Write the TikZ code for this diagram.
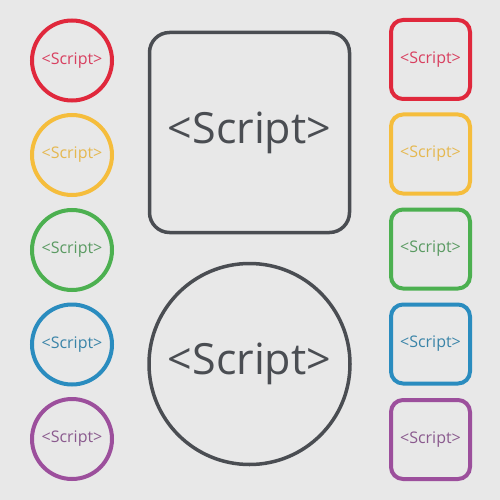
\documentclass[tikz,border=0pt]{standalone}
\usepackage{fontspec}
\setmainfont{Open Sans}
\definecolor{bg}{HTML}{E8E8E8}
\definecolor{cgray}{HTML}{4A4D52}
\definecolor{cred}{HTML}{E0283C}
\definecolor{tred}{HTML}{D84060}
\definecolor{cyel}{HTML}{F5BD3C}
\definecolor{tyel}{HTML}{E5B850}
\definecolor{cgrn}{HTML}{4CB050}
\definecolor{tgrn}{HTML}{5A9A62}
\definecolor{cblu}{HTML}{2A8CBF}
\definecolor{tblu}{HTML}{3A84A8}
\definecolor{cpur}{HTML}{9C4F9C}
\definecolor{tpur}{HTML}{8A5A8E}
\begin{document}
\begin{tikzpicture}[x=1pt,y=-1pt,
  smallcirc/.style={circle,draw,line width=4pt,minimum size=80pt,inner sep=0pt,font=\fontsize{16}{16}\selectfont},
  smallsq/.style={rectangle,rounded corners=12pt,draw,line width=4pt,minimum size=79pt,inner sep=0pt,font=\fontsize{16}{16}\selectfont},
  bigsq/.style={rectangle,rounded corners=20pt,draw=cgray,line width=3.5pt,minimum size=200pt,inner sep=0pt,text=cgray,font=\fontsize{43}{43}\selectfont},
  bigcirc/.style={circle,draw=cgray,line width=3.5pt,minimum size=201pt,inner sep=0pt,text=cgray,font=\fontsize{43}{43}\selectfont}]
\fill[bg] (0,0) rectangle (500,500);
\useasboundingbox (0,0) rectangle (500,500);
\node[smallcirc,draw=cred,text=tred] (c1) at (72,60.5) {<Script>};
\node[smallcirc,draw=cyel,text=tyel] (c2) at (72,155) {<Script>};
\node[smallcirc,draw=cgrn,text=tgrn] (c3) at (72,250) {<Script>};
\node[smallcirc,draw=cblu,text=tblu] (c4) at (72,344.5) {<Script>};
\node[smallcirc,draw=cpur,text=tpur] (c5) at (72,439) {<Script>};
\node[smallsq,draw=cred,text=tred] (s1) at (430.5,59.5) {<Script>};
\node[smallsq,draw=cyel,text=tyel] (s2) at (430.5,154) {<Script>};
\node[smallsq,draw=cgrn,text=tgrn] (s3) at (430.5,249) {<Script>};
\node[smallsq,draw=cblu,text=tblu] (s4) at (430.5,344) {<Script>};
\node[smallsq,draw=cpur,text=tpur] (s5) at (430.5,439.5) {<Script>};
\node[bigsq] (bs) at (249.5,132.5) {<Script>};
\node[bigcirc] (bc) at (249.5,364) {<Script>};
\end{tikzpicture}
\end{document}
